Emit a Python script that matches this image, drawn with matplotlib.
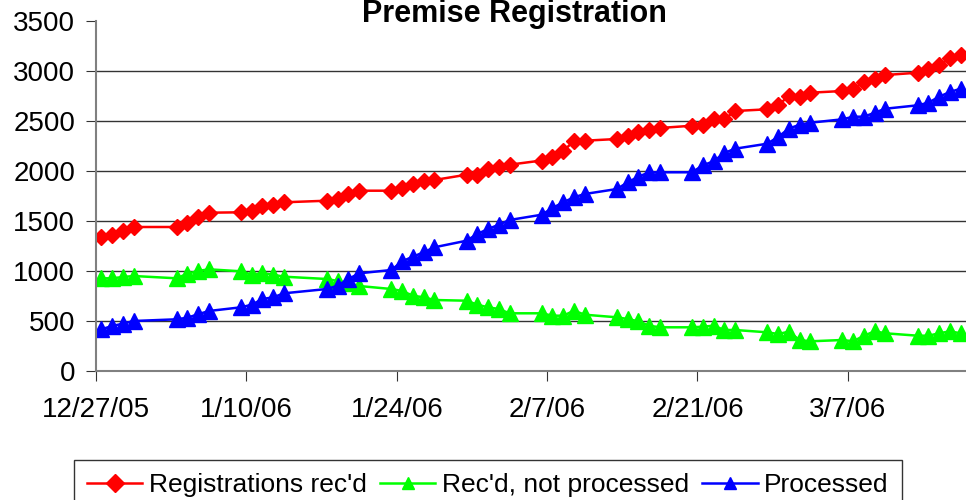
import numpy as np
import matplotlib
matplotlib.use("Agg")
import matplotlib.pyplot as plt
import matplotlib.dates as mdates
import pandas as pd

plt.rcParams['font.family'] = ['Liberation Sans', 'DejaVu Sans']

# Business days, holidays skipped (1/2, 1/16)
dates = pd.bdate_range('2005-12-27', '2006-03-17', freq='C',
                       holidays=['2006-01-02', '2006-01-16'])

received = [1340, 1360, 1400, 1440,
            1440, 1477, 1540, 1583,
            1587, 1603, 1647, 1663, 1687,
            1703, 1720, 1770, 1803,
            1803, 1830, 1870, 1897, 1910,
            1963, 1957, 2023, 2040, 2063,
            2105, 2137, 2200, 2300, 2303,
            2320, 2353, 2387, 2410, 2430,
            2453, 2457, 2523, 2517, 2600,
            2617, 2657, 2750, 2737, 2783,
            2800, 2817, 2893, 2917, 2960,
            2983, 3017, 3060, 3127, 3160]

not_processed = [927, 927, 940, 950,
                 927, 973, 1000, 1017,
                 997, 963, 980, 963, 943,
                 920, 900, 880, 850,
                 820, 800, 753, 737, 710,
                 703, 663, 637, 620, 577,
                 577, 553, 553, 603, 563,
                 537, 520, 497, 453, 437,
                 437, 443, 453, 410, 410,
                 387, 370, 393, 310, 297,
                 310, 297, 353, 397, 377,
                 353, 353, 377, 397, 377]

processed = [417, 450, 473, 500,
             517, 533, 567, 600,
             637, 663, 720, 737, 777,
             820, 853, 920, 977,
             1010, 1097, 1143, 1187, 1237,
             1303, 1370, 1420, 1463, 1510,
             1563, 1630, 1687, 1737, 1770,
             1820, 1887, 1943, 1987, 1987,
             1987, 2057, 2097, 2180, 2223,
             2273, 2340, 2423, 2463, 2483,
             2517, 2543, 2543, 2583, 2623,
             2657, 2683, 2743, 2790, 2823]

tick_dates = pd.date_range('2005-12-27', '2006-03-07', freq='14D')

fig = plt.figure(figsize=(9.66, 5.0), dpi=100)
ax = fig.add_axes([0.0994, 0.258, 0.9006, 0.700])

# points sit in the middle of each day, like the Excel date axis
x = dates + pd.Timedelta(hours=12)

ax.plot(x, received, color='#FF0000', lw=1.8, marker='D', ms=8.5,
        label="Registrations rec'd")
ax.plot(x, not_processed, color='#00FF00', lw=1.8, marker='^', ms=11,
        label="Rec'd, not processed")
ax.plot(x, processed, color='#0000FF', lw=1.8, marker='^', ms=11,
        label='Processed')

ax.set_ylim(0, 3500)
ax.set_yticks(np.arange(0, 3501, 500))
ax.set_xlim(pd.Timestamp('2005-12-27'), pd.Timestamp('2006-03-18'))
ax.set_xticks(tick_dates)
ax.xaxis.set_major_formatter(mdates.DateFormatter('%-m/%-d/%y'))

for v in range(500, 3001, 500):
    ax.axhline(v, color='#333333', lw=1, zorder=0)

for s in ['top', 'right']:
    ax.spines[s].set_visible(False)
ax.spines['left'].set_color('#808080')
ax.spines['bottom'].set_color('#808080')
ax.spines['left'].set_linewidth(1.5)
ax.spines['bottom'].set_linewidth(1.5)
ax.tick_params(axis='both', labelsize=20, length=7, color='#333333',
               direction='out')
ax.tick_params(axis='x', pad=12)
ax.tick_params(axis='y', pad=8)

fig.text(0.533, 0.972, 'Premise Registration', ha='center', va='center',
         fontsize=22, fontweight='bold')

leg = fig.legend(loc='upper center', bbox_to_anchor=(0.505, 0.08), ncol=3,
                 fontsize=19, frameon=True, fancybox=False, edgecolor='black',
                 handlelength=2.1, columnspacing=0.5, handletextpad=0.25,
                 borderpad=0.5, borderaxespad=0)
leg.get_frame().set_linewidth(1)
for h in leg.legend_handles:
    h.set_markersize(9)

fig.savefig('out.png', dpi=100)
